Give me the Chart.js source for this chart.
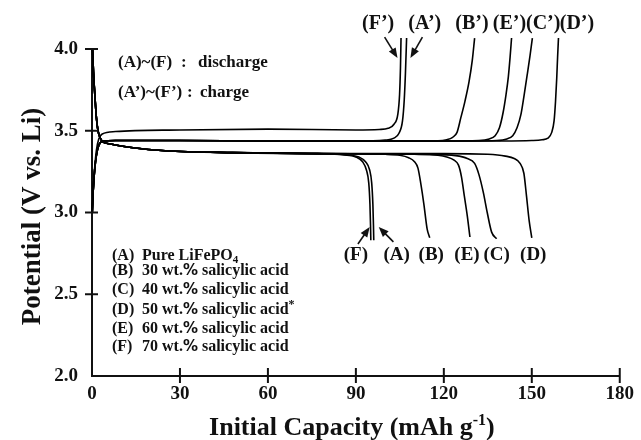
<!DOCTYPE html>
<html>
<head>
<meta charset="utf-8">
<script src="https://cdn.jsdelivr.net/npm/chart.js@4.4.1/dist/chart.umd.min.js"></script>
<style>
  html, body { margin: 0; padding: 0; background: #fff; }
  canvas { display: block; }
</style>
</head>
<body>
<canvas id="grafico" width="641" height="440"></canvas>
<script>
// first discharge, common start for (A)~(F)  [capacity mAh/g, potential V]
const dischargeStart = [[0.2,4.0],[0.5,3.86],[1.0,3.71],[1.5,3.58],[2.0,3.505],[2.7,3.46],[3.5,3.435],[6,3.42],[14,3.396],[25,3.378],[48,3.366],[77,3.36]]
const dischargeF = [[86,3.352],[90,3.34],[92.3,3.31],[93.6,3.26],[94.4,3.18],[94.8,3.05],[95.0,2.92],[95.1,2.83]]
const dischargeA = [[87,3.352],[91,3.34],[93.3,3.31],[94.7,3.26],[95.4,3.18],[95.8,3.05],[96.0,2.92],[96.1,2.83]]
const dischargeB = [[100,3.356],[105,3.35],[108,3.335],[110,3.31],[111.2,3.27],[112.2,3.17],[113.2,3.05],[114.3,2.90],[115.2,2.845]]
const dischargeE = [[110,3.356],[118,3.35],[121,3.34],[123.5,3.32],[125,3.29],[126,3.22],[127,3.10],[128,2.98],[128.9,2.85]]
const dischargeC = [[115,3.356],[124,3.348],[128,3.33],[130.5,3.30],[132,3.23],[133.5,3.12],[134.8,3.0],[136.3,2.88],[138,2.84]]
const dischargeD = [[120,3.36],[135,3.356],[141,3.345],[144,3.33],[146,3.30],[147.3,3.24],[148.2,3.10],[149.1,2.95],[150,2.845]]

// first charge
const chargeStart = [[0.1,3.0],[0.4,3.13],[0.9,3.26],[1.5,3.35],[2.3,3.41],[3.5,3.435],[8,3.44],[30,3.44],[60,3.437],[90,3.437]]
const chargeF = [[0.1,3.0],[0.4,3.13],[0.9,3.27],[1.5,3.38],[2.3,3.45],[3.5,3.48],[8,3.495],[30,3.505],[60,3.51],[90,3.505],[98,3.508],[101,3.515],[103,3.54],[104.3,3.60],[104.9,3.72],[105.2,3.88],[105.4,4.067]]
const chargeA = [[100,3.443],[103,3.455],[104.7,3.485],[105.9,3.56],[106.5,3.69],[106.9,3.85],[107.3,4.067]]
const chargeB = [[110,3.437],[118,3.438],[121,3.445],[123,3.46],[124.5,3.49],[125.8,3.58],[127.2,3.68],[128.6,3.80],[129.7,3.93],[130.5,4.067]]
const chargeE = [[120,3.437],[132,3.44],[135.5,3.45],[137.5,3.47],[139,3.52],[140.2,3.61],[141.2,3.72],[142,3.83],[142.6,3.95],[143.1,4.067]]
const chargeC = [[130,3.437],[138,3.44],[141.5,3.45],[143.5,3.47],[145,3.52],[146.3,3.6],[147.4,3.72],[148.5,3.85],[149.4,3.96],[150.2,4.067]]
const chargeD = [[140,3.437],[150,3.44],[153.5,3.445],[155.5,3.455],[156.8,3.49],[157.6,3.56],[158.1,3.68],[158.5,3.82],[158.8,3.95],[159.1,4.067]]

const xTicks = [0, 30, 60, 90, 120, 150, 180]
const yTicks = [2.0, 2.5, 3.0, 3.5, 4.0]
const topLabels = ["(F’)", "(A’)", "(B’)", "(E’)", "(C’)", "(D’)"]
const bottomLabels = ["(F)", "(A)", "(B)", "(E)", "(C)", "(D)"]
const sampleKeys = ["(A)", "(B)", "(C)", "(D)", "(E)", "(F)"]
const saltLoading = [30, 40, 50, 60, 70]

const SERIF = '"Liberation Serif", "Times New Roman", serif'
const INK = '#111'

function curva(pts){
    return {
        data: pts.map(p => ({x: p[0], y: p[1]})),
        borderColor: '#000',
        borderWidth: 1.6,
        pointRadius: 0,
        fill: false,
        cubicInterpolationMode: 'monotone',
        clip: false
    }
}

const datasets = [
    curva(dischargeStart.concat(dischargeA)),
    curva(dischargeStart.concat(dischargeB)),
    curva(dischargeStart.concat(dischargeC)),
    curva(dischargeStart.concat(dischargeD)),
    curva(dischargeStart.concat(dischargeE)),
    curva(dischargeStart.concat(dischargeF)),
    curva(chargeStart.concat(chargeA)),
    curva(chargeStart.concat(chargeB)),
    curva(chargeStart.concat(chargeC)),
    curva(chargeStart.concat(chargeD)),
    curva(chargeStart.concat(chargeE)),
    curva(chargeF)
]

// writes pieces of text one after the other: [text, font, dy]
function runs(ctx, x, y, parts){
    parts.forEach(p => {
        ctx.font = p[1]
        ctx.fillText(p[0], x, y + (p[2] || 0))
        x += ctx.measureText(p[0]).width
    })
}

function seta(ctx, x0, y0, x1, y1){
    const a = Math.atan2(y1 - y0, x1 - x0)
    ctx.beginPath(); ctx.moveTo(x0, y0); ctx.lineTo(x1 - 6*Math.cos(a), y1 - 6*Math.sin(a)); ctx.stroke()
    ctx.beginPath()
    ctx.moveTo(x1, y1)
    ctx.lineTo(x1 - 10*Math.cos(a) + 4*Math.sin(a), y1 - 10*Math.sin(a) - 4*Math.cos(a))
    ctx.lineTo(x1 - 10*Math.cos(a) - 4*Math.sin(a), y1 - 10*Math.sin(a) + 4*Math.cos(a))
    ctx.closePath(); ctx.fill()
}

const extras = {
    id: 'extras',
    afterDraw(chart){
        const {ctx, chartArea: area, scales: {x, y}} = chart
        const px = v => x.getPixelForValue(v)
        const py = v => y.getPixelForValue(v)
        ctx.save()
        ctx.strokeStyle = INK
        ctx.fillStyle = INK
        // ticks crossing the axes
        ctx.lineWidth = 2
        y.ticks.forEach(t => {
            if (t.value == 2) return
            ctx.beginPath(); ctx.moveTo(area.left - 7, py(t.value)); ctx.lineTo(area.left + 6, py(t.value)); ctx.stroke()
        })
        x.ticks.forEach(t => {
            if (t.value == 0) return
            ctx.beginPath(); ctx.moveTo(px(t.value), area.bottom - 8); ctx.lineTo(px(t.value), area.bottom + 7); ctx.stroke()
        })

        // axis titles
        ctx.textBaseline = 'alphabetic'
        ctx.textAlign = 'left'
        const tf = 'bold 26px ' + SERIF
        ctx.font = tf
        const w1 = ctx.measureText('Initial Capacity (mAh g').width
        ctx.font = 'bold 16px ' + SERIF
        const w2 = ctx.measureText('-1').width
        ctx.font = tf
        const w3 = ctx.measureText(')').width
        runs(ctx, (area.left + area.right)/2 - 4 - (w1 + w2 + w3)/2, 435, [
            ['Initial Capacity (mAh g', tf], ['-1', 'bold 16px ' + SERIF, -10], [')', tf]
        ])
        ctx.save()
        ctx.translate(40, (area.top + area.bottom)/2 + 4)
        ctx.rotate(-Math.PI/2)
        ctx.textAlign = 'center'
        ctx.font = 'bold 27px ' + SERIF
        ctx.fillText('Potential (V vs. Li)', 0, 0)
        ctx.restore()

        // curve labels
        ctx.textAlign = 'center'
        ctx.textBaseline = 'middle'
        ctx.font = 'bold 20px ' + SERIF
        const topX = [97.6, 113.5, 129.6, 142.4, 153.9, 165.4]
        topLabels.forEach((s, i) => ctx.fillText(s, px(topX[i]), py(4.153)))
        ctx.font = 'bold 19px ' + SERIF
        const botX = [90.0, 103.9, 115.7, 127.9, 138.0, 150.5]
        bottomLabels.forEach((s, i) => ctx.fillText(s, px(botX[i]), py(2.74)))

        ctx.lineWidth = 1.6
        seta(ctx, px(99.8), py(4.073), px(104.2), py(3.945))
        seta(ctx, px(112.7), py(4.073), px(108.6), py(3.945))
        seta(ctx, px(90.7), py(2.807), px(94.7), py(2.911))
        seta(ctx, px(102.8), py(2.820), px(97.8), py(2.911))

        // notes
        ctx.textAlign = 'left'
        ctx.textBaseline = 'alphabetic'
        const nf = 'bold 17px ' + SERIF
        ctx.font = nf
        ctx.fillText('(A)~(F)', 118, 67)
        ctx.fillText(':', 181, 67)
        ctx.fillText('discharge', 198, 67)
        ctx.fillText('(A’)~(F’)', 118, 97)
        ctx.fillText(':', 187, 97)
        ctx.fillText('charge', 200, 97)

        // sample list
        const lf = 'bold 16px ' + SERIF
        const pf = 'bold 15px "DejaVu Sans", sans-serif'
        const small = 'bold 11px ' + SERIF
        const base = [260, 275, 294, 314, 333, 351]
        sampleKeys.forEach((k, i) => {
            ctx.font = lf
            ctx.fillText(k, 112, base[i])
            if (i == 0){
                runs(ctx, 142, base[i], [['Pure LiFePO', lf], ['4', small, 3]])
            } else {
                const parts = [[saltLoading[i-1] + ' wt.', lf], ['%', pf], [' salicylic acid', lf]]
                if (k == '(D)') parts.push(['*', 'bold 12px ' + SERIF, -6])
                runs(ctx, 142, base[i], parts)
            }
        })
        ctx.restore()
    }
}

const graph = new Chart(document.getElementById('grafico').getContext('2d'), {
    type: 'line',
    data: { datasets: datasets },
    options: {
        responsive: false,
        animation: false,
        parsing: true,
        layout: { padding: { top: 49, right: 17, bottom: 0, left: 0 } },
        plugins: { legend: { display: false }, tooltip: { enabled: false } },
        scales: {
            x: {
                type: 'linear', min: 0, max: 180,
                afterBuildTicks: s => { s.ticks = xTicks.map(v => ({value: v})) },
                afterFit: s => { s.height = 64 },
                grid: { display: false, drawTicks: false },
                border: { display: true, color: INK, width: 2 },
                ticks: { color: INK, padding: 7, font: { family: SERIF, size: 19, weight: 'bold' } }
            },
            y: {
                type: 'linear', min: 2, max: 4,
                afterBuildTicks: s => { s.ticks = yTicks.map(v => ({value: v})) },
                afterFit: s => { s.width = 92 },
                grid: { display: false, drawTicks: false },
                border: { display: true, color: INK, width: 2 },
                ticks: { color: INK, padding: 14, callback: v => v.toFixed(1), font: { family: SERIF, size: 19, weight: 'bold' } }
            }
        }
    },
    plugins: [extras]
})
</script>
</body>
</html>
